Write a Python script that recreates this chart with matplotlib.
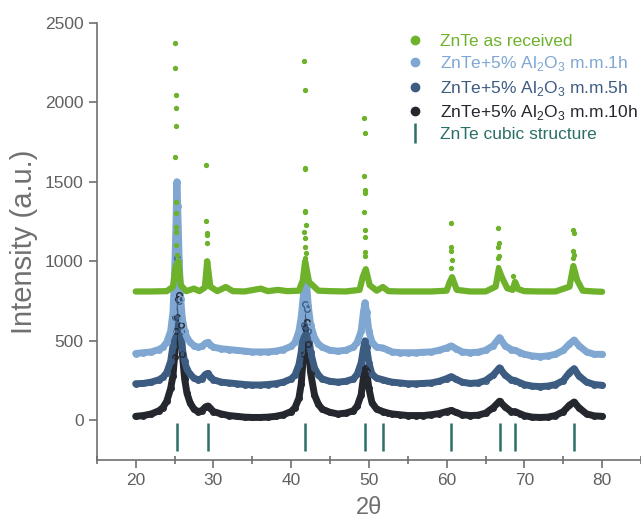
import matplotlib.pyplot as plt
from matplotlib.lines import Line2D
from matplotlib.ticker import MultipleLocator

plt.rcParams['font.family'] = ['Liberation Sans', 'DejaVu Sans']
plt.rcParams['mathtext.fontset'] = 'custom'
plt.rcParams['mathtext.rm'] = 'Liberation Sans'

# 2theta grid shared by the three milled samples
two_theta = [20, 21, 22, 23, 23.5, 24, 24.5, 24.8, 25.0, 25.2, 25.3, 25.4, 25.6, 25.8, 26.0,
             26.3, 26.6, 27, 27.5, 28, 28.5, 29, 29.3, 29.6, 30, 31, 32, 33, 34, 35, 36, 37,
             38, 39, 40, 40.5, 41, 41.3, 41.6, 41.8, 42.0, 42.2, 42.5, 43, 43.5, 44, 45, 46,
             47, 48, 48.5, 49, 49.3, 49.5, 49.7, 50, 50.4, 51, 51.8, 52.5, 53, 54, 55, 56, 57,
             58, 59, 60, 60.6, 61.2, 62, 63, 64, 65, 66, 66.8, 67.5, 68.3, 68.8, 69.5, 70, 71,
             72, 73, 74, 75, 75.8, 76.4, 77, 78, 79, 80]

mm_1h = [420, 425, 430, 445, 460, 490, 560, 680, 900, 1250, 1500, 1350, 1000, 760, 640,
         560, 520, 490, 470, 460, 465, 485, 490, 475, 460, 450, 445, 440, 435, 430, 430, 430,
         435, 445, 465, 490, 560, 650, 800, 880, 850, 720, 600, 520, 480, 460, 440, 435,
         440, 460, 490, 560, 680, 740, 680, 560, 490, 460, 455, 440, 430, 425, 425, 425, 428,
         430, 440, 455, 468, 450, 430, 425, 428, 440, 470, 520, 470, 445, 440, 425, 415, 405,
         400, 405, 415, 440, 480, 505, 470, 430, 415, 415]

mm_5h = [230, 232, 240, 255, 270, 300, 370, 470, 650, 900, 1020, 950, 750, 560, 450,
         370, 320, 290, 265, 255, 262, 290, 295, 275, 255, 240, 235, 230, 225, 222, 222, 225,
         230, 240, 260, 285, 350, 430, 600, 730, 700, 560, 430, 330, 285, 260, 245, 240,
         245, 260, 290, 360, 450, 500, 460, 360, 290, 265, 255, 245, 240, 235, 230, 230, 232,
         235, 245, 262, 275, 258, 240, 232, 235, 250, 285, 330, 285, 255, 250, 235, 225, 215,
         212, 215, 225, 250, 300, 325, 280, 240, 225, 220]

mm_10h = [25, 30, 40, 60, 80, 120, 200, 280, 400, 560, 650, 760, 790, 600, 420,
          260, 170, 110, 70, 55, 60, 85, 90, 75, 55, 40, 30, 25, 20, 18, 18, 20,
          25, 35, 55, 80, 140, 230, 420, 580, 620, 480, 300, 160, 100, 70, 50, 40,
          45, 60, 90, 160, 270, 330, 310, 200, 110, 70, 55, 45, 40, 35, 30, 30, 30,
          35, 42, 55, 62, 50, 35, 30, 32, 45, 80, 120, 85, 55, 55, 40, 30, 20,
          18, 20, 30, 55, 95, 115, 80, 40, 28, 25]

# as received: baseline profile + isolated points on the sharp peaks
raw_x = [20, 22, 24, 24.8, 25.1, 25.5, 25.8, 26.5, 27.5, 28.2, 28.9, 29.2, 29.6, 30.5, 31.6,
         32.5, 34, 36.1, 37, 38.3, 39.5, 41, 41.5, 41.8, 42.3, 43.5, 45, 47, 48.8, 49.2,
         49.6, 50.1, 51, 51.8, 52.5, 54, 56, 58, 60, 60.4, 60.7, 61.3, 63, 65, 66.3, 66.7,
         67.1, 67.8, 68.5, 68.8, 69.2, 70, 72, 74, 75.8, 76.3, 76.8, 77.5, 79, 80]
raw_y = [810, 810, 812, 840, 960, 1000, 850, 812, 828, 812, 835, 1000, 840, 812, 838,
         812, 810, 828, 812, 820, 812, 815, 880, 1000, 870, 815, 812, 810, 820, 900,
         950, 850, 815, 838, 812, 810, 810, 810, 815, 870, 900, 820, 810, 810, 840, 950,
         900, 830, 820, 870, 825, 812, 810, 810, 840, 970, 880, 815, 810, 808]

raw_peak_x = [25.1, 25.1, 25.15, 25.15, 25.15, 25.1, 25.15, 25.2, 25.2, 25.25, 25.2, 25.3, 25.15,
              29.1, 29.1, 29.15, 29.15, 29.2, 29.1, 29.15,
              41.7, 41.8, 41.75, 41.8, 41.75, 41.8, 41.85, 41.7, 41.8, 41.75, 41.85, 41.8, 41.75,
              49.4, 49.45, 49.4, 49.45, 49.5, 49.4, 49.5, 49.45, 49.5, 49.45,
              60.6, 60.55, 60.6, 60.65, 60.55,
              66.65, 66.7, 66.6, 66.7, 66.65, 66.6,
              68.6, 68.65,
              76.3, 76.35, 76.3, 76.35, 76.3, 76.25]
raw_peak_y = [2372, 2215, 2045, 1963, 1850, 1655, 1372, 1302, 1215, 1183, 1100, 1040, 980,
              1605, 1252, 1177, 1165, 1114, 1000, 960,
              2260, 2075, 1585, 1580, 1318, 1310, 1227, 1185, 1145, 1090, 1050, 1022, 965,
              1902, 1805, 1537, 1448, 1427, 1311, 1197, 1151, 1060, 1030,
              1238, 1090, 1065, 1007, 955,
              1210, 1115, 1090, 1033, 1020, 965,
              905, 870,
              1195, 1175, 1065, 1040, 1020, 965]

cubic_pos = [25.26, 29.25, 41.8, 49.5, 51.8, 60.6, 66.8, 68.8, 76.4]

c_green = '#6db22a'
c_light = '#7fa7d2'
c_dark = '#3d5c82'
c_black = '#24272d'
c_teal = '#2c6f69'
c_axis = '#707070'

fig = plt.figure(figsize=(6.41, 5.27), dpi=100)
ax = fig.add_axes([0.151, 0.127, 0.849, 0.830])

for y, c in [(mm_10h, c_black), (mm_5h, c_dark), (mm_1h, c_light)]:
    ax.plot(two_theta, y, color=c, lw=5, solid_capstyle='round', zorder=2)
    ax.plot(two_theta, y, ls='none', marker='o', ms=4, mfc='none', mec=c, mew=1.0, zorder=3)

ax.plot(raw_x, raw_y, color=c_green, lw=4.5, solid_capstyle='round', zorder=4)
ax.plot(raw_peak_x, raw_peak_y, ls='none', marker='o', ms=2.8, color=c_green, zorder=4)

ax.vlines(cubic_pos, -190, -15, color=c_teal, lw=1.8, zorder=2)

ax.set_xlim(15, 85)
ax.set_ylim(-250, 2500)
ax.set_xticks([20, 30, 40, 50, 60, 70, 80])
ax.xaxis.set_minor_locator(MultipleLocator(5))
ax.set_yticks([0, 500, 1000, 1500, 2000, 2500])

for s in ['top', 'right']:
    ax.spines[s].set_visible(False)
for s in ['left', 'bottom']:
    ax.spines[s].set_color(c_axis)
    ax.spines[s].set_linewidth(1.2)
ax.tick_params(which='major', direction='out', length=6, width=1.2, color=c_axis,
               labelcolor='#606060', labelsize=12.5)
ax.tick_params(which='minor', direction='inout', length=6, width=1.2, color=c_axis)
ax.tick_params(axis='y', which='minor', left=False)

ax.set_ylabel('Intensity (a.u.)', fontsize=21, color='#707070')
ax.yaxis.set_label_coords(-0.108, 0.5)
ax.set_xlabel('2θ', fontsize=17, color='#707070')
ax.xaxis.set_label_coords(0.5, -0.085)

al2o3 = r'Al$_\mathregular{2}$O$_\mathregular{3}$'
handles = [
    Line2D([], [], ls='none', marker='o', ms=6, color=c_green),
    Line2D([], [], ls='none', marker='o', ms=6, color=c_light),
    Line2D([], [], ls='none', marker='o', ms=6, color=c_dark),
    Line2D([], [], ls='none', marker='o', ms=6, color=c_black),
    Line2D([], [], ls='none', marker='|', ms=14, mew=1.8, color=c_teal),
]
labels = ['ZnTe as received',
          'ZnTe+5% ' + al2o3 + ' m.m.1h',
          'ZnTe+5% ' + al2o3 + ' m.m.5h',
          'ZnTe+5% ' + al2o3 + ' m.m.10h',
          'ZnTe cubic structure']
fig.legend(handles, labels, loc='upper left', bbox_to_anchor=(0.61, 0.965),
           frameon=False, fontsize=12.5, handlelength=1.0, handletextpad=0.9,
           labelspacing=0.3,
           labelcolor=[c_green, c_light, c_dark, c_black, c_teal])

fig.savefig('out.png', dpi=100)
